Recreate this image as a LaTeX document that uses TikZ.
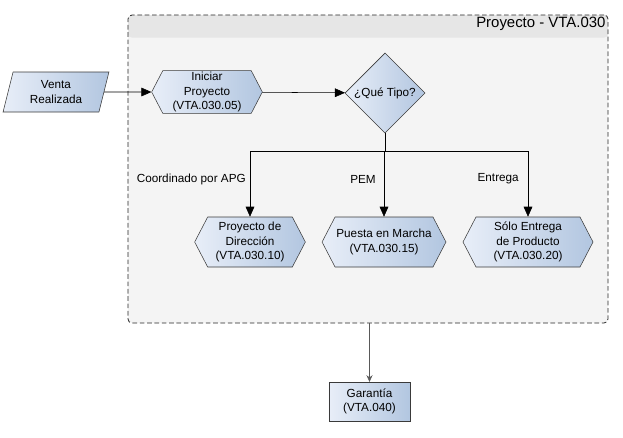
\documentclass[tikz,border=0pt]{standalone}
\usepackage{fontspec}
\setmainfont{Liberation Sans}
\usepackage{xcolor}
\usepackage{tikz}
\usetikzlibrary{arrows,arrows.meta,shapes,shapes.geometric,shapes.symbols,backgrounds,fit}

\definecolor{boxlight}{HTML}{E8EEF8}
\definecolor{boxdark}{HTML}{B2C6E0}
\definecolor{edgegray}{HTML}{3A3A3A}
\definecolor{poolfill}{HTML}{F4F4F4}
\definecolor{poolhead}{HTML}{E6E6E6}

\begin{document}
\begin{tikzpicture}[x=0.75pt,y=-0.75pt,font=\fontsize{8.8}{11}\selectfont]
      \tikzstyle{shade_box}=[draw=edgegray, left color=boxlight, right color=boxdark]
      \tikzstyle{task}=[shade_box, signal, signal to=west and east, signal pointer angle=125,
                        minimum height=37.5pt, inner sep=1pt, align=center]
      \tikzstyle{pool}=[draw=black!85, fill=poolfill, dash pattern=on 3.5pt off 2pt,
                        line width=0.6pt, rounded corners=3pt, minimum width=360pt,
                        minimum height=231pt,
                        path picture={\fill[poolhead] (path picture bounding box.north west)
                          rectangle ([yshift=-17pt]path picture bounding box.north east);}]
      \tikzstyle{pool_text}=[draw=none, fill=none, anchor=north east, inner sep=2pt,
                             font=\fontsize{11.2}{12}\selectfont]
      \tikzstyle{flow}=[-{Triangle[length=7.5pt,width=6.5pt]}, black]
      \tikzstyle{branch_text}=[draw=none, fill=none, anchor=east, inner sep=0pt]

      \useasboundingbox (0,0) rectangle (623,437);

      % contenedor del proyecto
      \node (proj) at (368,169) [pool] {};
      \node at (proj.north east) [pool_text] {Proyecto - VTA.030};

      \node (venta) at (56,92) [shade_box, trapezium, trapezium left angle=76,
            trapezium right angle=104, minimum width=45pt, minimum height=30pt,
            inner sep=1pt, align=center] {Venta\\Realizada};
      \node (iniciar) at (207,92) [task, minimum height=30pt, minimum width=83pt]
            {Iniciar\\Proyecto\\(VTA.030.05)};
      \node (tipo) at (385,93) [shade_box, diamond, minimum size=60pt, inner sep=0pt]
            {¿Qué Tipo?};

      \node (direccion) at (250,242) [task, minimum width=83pt]
            {Proyecto de\\Dirección\\(VTA.030.10)};
      \node (marcha) at (384,242) [task, minimum width=88.5pt]
            {Puesta en Marcha\\(VTA.030.15)};
      \node (entrega) at (528,242) [task, minimum width=97.5pt]
            {Sólo Entrega\\de Producto\\(VTA.030.20)};

      \node (garantia) at (369.5,401.5) [shade_box, rectangle, minimum width=61pt,
            minimum height=29pt, inner sep=1pt, align=center] {Garantía\\(VTA.040)};

      \coordinate (bus) at (385,151);

      \draw[flow] (venta) -- (iniciar);
      \draw[flow] (iniciar) -- (tipo);
      \draw (tipo.south) -- (bus);
      \draw[flow] (bus) -| (direccion.north);
      \draw[flow] (bus) -| (marcha.north);
      \draw[flow] (bus) -| (entrega.north);

      \node (lbl_apg) at (246,179) [branch_text] {Coordinado por APG};
      \node (lbl_pem) at (376,179) [branch_text] {PEM};
      \node (lbl_ent) at (519,179) [branch_text] {Entrega};

      \draw[-{Stealth[length=5pt,width=4.5pt]}, draw=black!65] (proj.south -| garantia.north)
            -- (garantia.north);
\end{tikzpicture}
\end{document}
